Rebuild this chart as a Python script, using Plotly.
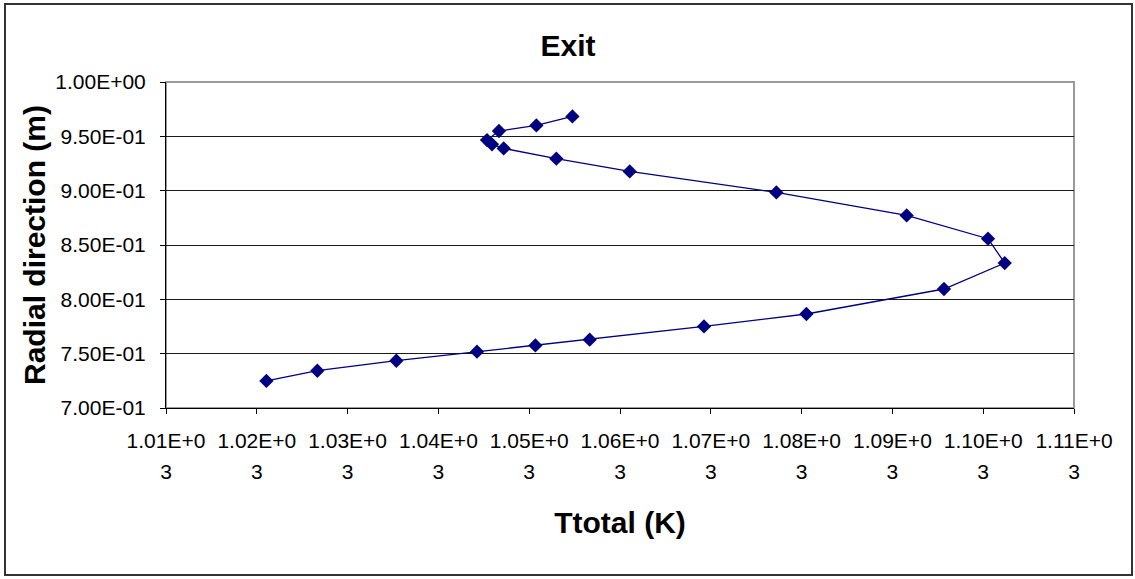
import plotly.graph_objects as go

# Exit profile: total temperature against radial position
ttotal = [1021.06, 1026.67, 1035.37, 1044.25, 1050.68, 1056.66, 1069.25, 1080.53,
          1095.68, 1102.37, 1100.53, 1091.57, 1077.22, 1061.07, 1052.99, 1047.19,
          1045.90, 1045.35, 1046.67, 1050.79, 1054.76]
radial = [0.7249, 0.7343, 0.7435, 0.7518, 0.7576, 0.7629, 0.7751, 0.7865,
          0.8095, 0.8334, 0.8558, 0.8772, 0.8984, 0.9177, 0.9294, 0.9389,
          0.9426, 0.9466, 0.9549, 0.9600, 0.9683]

x_ticks = [1010, 1020, 1030, 1040, 1050, 1060, 1070, 1080, 1090, 1100, 1110]
x_labels = ["1.01E+0", "1.02E+0", "1.03E+0", "1.04E+0", "1.05E+0", "1.06E+0",
            "1.07E+0", "1.08E+0", "1.09E+0", "1.10E+0", "1.11E+0"]
y_ticks = [0.70, 0.75, 0.80, 0.85, 0.90, 0.95, 1.00]
y_labels = ["7.00E-01", "7.50E-01", "8.00E-01", "8.50E-01", "9.00E-01",
            "9.50E-01", "1.00E+00"]

FONT = "Liberation Sans, Arial, sans-serif"
span = "<span style='font-size:21px'>{}</span>"

fig = go.Figure(
    go.Scatter(
        x=ttotal,
        y=radial,
        mode="lines+markers",
        line=dict(color="#000080", width=1.3),
        marker=dict(symbol="diamond", size=11, color="#000080"),
        showlegend=False,
    )
)

fig.update_layout(
    width=1135,
    height=579,
    paper_bgcolor="white",
    plot_bgcolor="white",
    margin=dict(l=166, r=61, t=82, b=171),
    font=dict(family=FONT, color="black"),
    title=dict(
        text="<b>Exit</b>",
        x=568 / 1135,
        xanchor="center",
        y=1 - 45 / 579,
        yanchor="middle",
        font=dict(size=30, family=FONT),
    ),
)

fig.update_xaxes(
    range=[1010, 1110],
    tickvals=x_ticks,
    ticktext=[span.format(t) + "<br>" + span.format("3") for t in x_labels],
    tickfont=dict(size=24),
    ticks="outside",
    ticklen=5,
    tickcolor="black",
    showline=True,
    linecolor="black",
    linewidth=1,
    showgrid=False,
    zeroline=False,
    ticklabelstandoff=5,
    title=dict(text="<b>Ttotal (K)</b>", font=dict(size=30), standoff=29),
)
fig.update_yaxes(
    range=[0.70, 1.00],
    tickvals=y_ticks,
    ticktext=y_labels,
    tickfont=dict(size=21),
    ticks="outside",
    ticklen=5,
    tickcolor="black",
    showline=True,
    linecolor="black",
    linewidth=1,
    showgrid=True,
    gridcolor="#1a1a1a",
    gridwidth=1,
    zeroline=False,
    ticklabelstandoff=10,
    title=dict(text="<b>Radial direction (m)</b>", font=dict(size=30), standoff=0),
)

# grey plot-area frame (top/right) and dark chart-area border
fig.add_shape(type="rect", xref="paper", yref="paper", x0=0, x1=1, y0=0, y1=1,
              line=dict(color="#9a9a9a", width=2), layer="below")
fig.add_shape(type="rect", xref="paper", yref="paper",
              x0=-161 / 908, x1=(1132 - 166) / 908,
              y0=-(575 - 408) / 326, y1=(408 - 4) / 326,
              line=dict(color="#333333", width=2))

fig.write_html(
    "out.html",
    config={"displayModeBar": False},
    post_script="document.body.style.margin='0';document.body.style.overflow='hidden';",
)
